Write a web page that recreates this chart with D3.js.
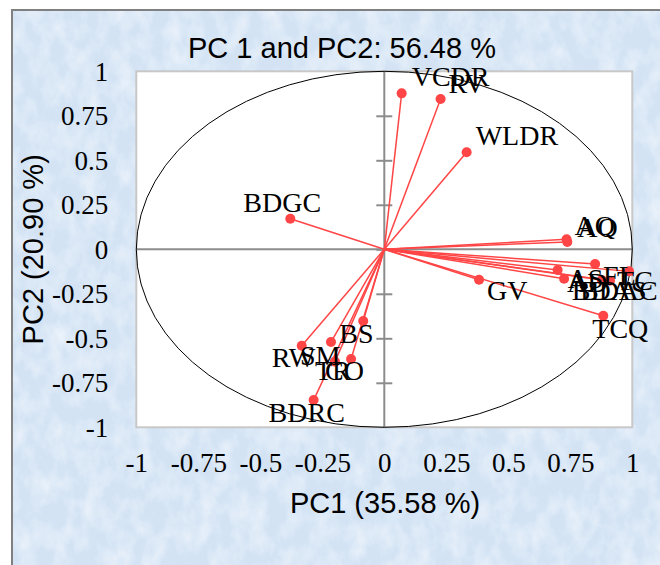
<!DOCTYPE html>
<html>
<head>
  <meta charset="utf-8">
  <script src="https://d3js.org/d3.v7.min.js"></script>
  <style>
    body { margin: 0; background: #fff; }
    .vec { stroke: #ff4545; stroke-width: 1.5; }
    .dot { fill: #ff4545; }
    .lbl { font-family: "Liberation Serif", "Times New Roman", serif; font-size: 28px; fill: #000; }
    .tick text { font-family: "Liberation Serif", "Times New Roman", serif; font-size: 27px; fill: #000; }
    .ttl { font-family: "Liberation Sans", Arial, sans-serif; font-size: 29px; fill: #000; }
  </style>
</head>
<body>
  <div id="chart"></div>
  <script>
    var w = 660;
    var h = 565;

    // variable loadings on PC1 / PC2
    var varNames = ["VCDR", "RV", "WLDR", "BDGC", "AQ", "AO", "FL", "AS", "AD", "TC", "BDAS", "BDAC",
                    "GV", "TCQ", "BS", "SM", "RW", "CO", "TR", "BDRC"];
    var pc1 = [0.070, 0.227, 0.332, -0.379, 0.735, 0.738, 0.850, 0.699, 0.725, 0.987, 0.877, 0.910,
               0.382, 0.883, -0.085, -0.215, -0.333, -0.134, -0.199, -0.285];
    var pc2 = [0.876, 0.844, 0.545, 0.172, 0.056, 0.041, -0.083, -0.116, -0.165, -0.124, -0.172, -0.176,
               -0.171, -0.373, -0.403, -0.521, -0.542, -0.616, -0.631, -0.847];

    var xTicks = [-1, -0.75, -0.5, -0.25, 0, 0.25, 0.5, 0.75, 1];
    var yTicks = [-1, -0.75, -0.5, -0.25, 0, 0.25, 0.5, 0.75, 1];

    var title = "PC 1 and PC2: 56.48 %";
    var xTitle = "PC1 (35.58 %)";
    var yTitle = "PC2 (20.90 %)";

    // label placement (pixels from the point, like the hand-placed labels)
    var labelDx = [10, 8, 9, -47, 8, 10, 8, 10, 3, -12, -30, -30, 8, -11, -24, -31, -30, -26, -20, -45];
    var labelDy = [-7, -6, -7, -7, -4, -5, 21, 18, 13, 19, 20, 19, 20, 22, 22, 23, 21, 21, 18, 22];

    var plotL = 136.3, plotR = 632.3, plotT = 71.3, plotB = 427.3;

    var svg = d3.select("#chart").append("svg")
      .attr("width", w)
      .attr("height", h);

    var defs = svg.append("defs");
    var filt = defs.append("filter").attr("id", "tissue")
      .attr("x", 0).attr("y", 0).attr("width", 1).attr("height", 1);
    filt.append("feTurbulence")
      .attr("type", "fractalNoise")
      .attr("baseFrequency", "0.06 0.04")
      .attr("numOctaves", 4)
      .attr("seed", 7);
    filt.append("feColorMatrix")
      .attr("type", "matrix")
      .attr("values", "0 0 0 0 0.95  0 0 0 0 0.97  0 0 0 0 1  1.1 0 0 0 -0.4");

    // textured frame
    svg.append("rect")
      .attr("x", 12).attr("y", 10).attr("width", w).attr("height", h)
      .attr("fill", "#d3e3f4");
    svg.append("rect")
      .attr("x", 12).attr("y", 10).attr("width", w).attr("height", h)
      .attr("fill", "#fff")
      .attr("filter", "url(#tissue)");
    svg.append("path")
      .attr("d", "M12," + h + "V10H" + w)
      .attr("fill", "none")
      .attr("stroke", "#808080")
      .attr("stroke-width", 2);

    // plot area
    svg.append("rect")
      .attr("x", plotL).attr("y", plotT)
      .attr("width", plotR - plotL).attr("height", plotB - plotT)
      .attr("fill", "#fff")
      .attr("stroke", "#c8c8c8")
      .attr("stroke-width", 2);

    var xScale = d3.scaleLinear().domain([-1, 1]).range([plotL, plotR]);
    var yScale = d3.scaleLinear().domain([-1, 1]).range([plotB, plotT]);

    // tick labels at the plot edges
    svg.append("g")
      .attr("transform", "translate(0," + plotB + ")")
      .call(d3.axisBottom(xScale).tickValues(xTicks).tickSize(0).tickPadding(26).tickFormat(d => String(d)))
      .call(g => g.select(".domain").remove());

    svg.append("g")
      .attr("transform", "translate(" + plotL + ",0)")
      .call(d3.axisLeft(yScale).tickValues(yTicks).tickSize(0).tickPadding(28).tickFormat(d => String(d)))
      .call(g => g.select(".domain").remove())
      .selectAll("text").attr("dy", "0.34em");

    // central axes
    svg.append("line")
      .attr("x1", xScale(-1)).attr("x2", xScale(1))
      .attr("y1", yScale(0)).attr("y2", yScale(0))
      .attr("stroke", "#8c8c8c").attr("stroke-width", 2);

    var innerTicks = yTicks.filter(d => Math.abs(d) < 1);
    [d3.axisLeft, d3.axisRight].forEach(function(ax) {
      svg.append("g")
        .attr("transform", "translate(" + xScale(0) + ",0)")
        .call(ax(yScale).tickValues(innerTicks).tickSize(8).tickFormat(""))
        .call(g => g.select(".domain").remove())
        .selectAll("line").attr("stroke", "#8c8c8c").attr("stroke-width", 2);
    });
    svg.append("line")
      .attr("x1", xScale(0)).attr("x2", xScale(0))
      .attr("y1", yScale(-1)).attr("y2", yScale(1))
      .attr("stroke", "#8c8c8c").attr("stroke-width", 2);

    // correlation circle
    svg.append("ellipse")
      .attr("cx", xScale(0)).attr("cy", yScale(0))
      .attr("rx", xScale(1) - xScale(0))
      .attr("ry", yScale(0) - yScale(1))
      .attr("fill", "none")
      .attr("stroke", "#000")
      .attr("stroke-width", 1);

    var data = varNames.map((n, i) => ({ name: n, x: pc1[i], y: pc2[i], dx: labelDx[i], dy: labelDy[i] }));

    svg.selectAll(".vec").data(data).enter().append("line")
      .attr("class", "vec")
      .attr("x1", xScale(0)).attr("y1", yScale(0))
      .attr("x2", d => xScale(d.x)).attr("y2", d => yScale(d.y));

    svg.selectAll(".dot").data(data).enter().append("circle")
      .attr("class", "dot")
      .attr("cx", d => xScale(d.x)).attr("cy", d => yScale(d.y))
      .attr("r", 5);

    svg.selectAll(".lbl").data(data).enter().append("text")
      .attr("class", "lbl")
      .attr("x", d => xScale(d.x) + d.dx)
      .attr("y", d => yScale(d.y) + d.dy)
      .text(d => d.name);

    // titles
    svg.append("text").attr("class", "ttl")
      .attr("x", 342).attr("y", 58)
      .attr("text-anchor", "middle")
      .text(title);

    svg.append("text").attr("class", "ttl")
      .attr("x", 385).attr("y", 513)
      .attr("text-anchor", "middle")
      .text(xTitle);

    svg.append("text").attr("class", "ttl")
      .attr("transform", "translate(43," + yScale(0) + ") rotate(-90)")
      .attr("text-anchor", "middle")
      .text(yTitle);
  </script>
</body>
</html>
